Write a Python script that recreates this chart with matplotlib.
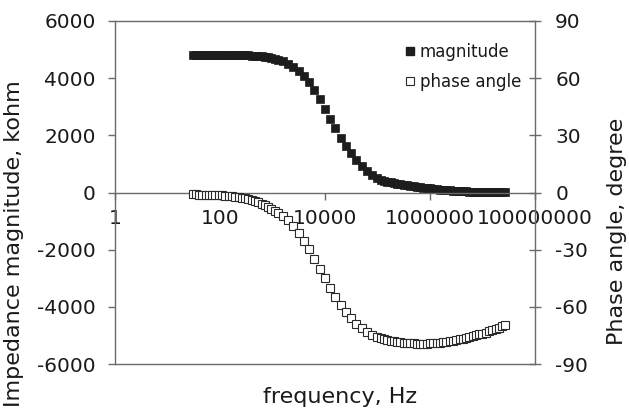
import matplotlib
matplotlib.use("Agg")
import matplotlib.pyplot as plt
from matplotlib.lines import Line2D

plt.rcParams['font.family'] = ['DejaVu Sans']
plt.rcParams['axes.unicode_minus'] = False

# sweep frequencies, Hz
freq = [30, 35, 40, 46, 53, 62, 71, 82, 95, 110, 127, 146, 169, 195, 226, 261,
        301, 348, 402, 464, 536, 619, 715, 825, 953, 1101, 1272,
        1600, 2000, 2500, 3200, 4000, 5000, 6300, 7900, 10000, 12600, 15800,
        20000, 25100, 31600, 39800, 50100, 63100, 79400, 100000,
        115500, 133400, 154000, 177800, 205400, 237100, 273800, 316200, 365200,
        421700, 487000, 562300, 649400, 749900, 866000, 1000000, 1155000,
        1334000, 1540000, 1778000, 2054000, 2371000, 2738000, 3162000, 3652000,
        4217000, 4870000, 5623000, 6494000, 7499000, 8660000, 10000000,
        11550000, 13340000, 15400000, 17780000, 20540000, 23710000, 27380000]

# impedance magnitude, kohm
magnitude = [4815, 4815, 4814, 4814, 4813, 4813, 4812, 4812, 4811, 4811, 4810,
             4809, 4808, 4807, 4806, 4804, 4801, 4797, 4792, 4784, 4774, 4760,
             4744, 4724, 4700, 4673, 4642,
             4590, 4505, 4400, 4255, 4090, 3870, 3580, 3265, 2935, 2570, 2240,
             1910, 1635, 1365, 1125, 925, 750, 605, 500,
             445, 410, 380, 355, 332, 310, 290, 270, 251, 233, 216, 200, 185,
             170, 157, 145, 130, 116, 103, 91, 80, 70, 61, 53, 46, 40, 35, 30,
             26, 23, 20, 17, 15, 13, 11, 10, 9, 8, 7]

# phase angle, degree
phase = [-1.0, -1.0, -1.1, -1.1, -1.2, -1.2, -1.3, -1.3, -1.4, -1.5, -1.6,
         -1.7, -1.9, -2.1, -2.4, -2.7, -3.1, -3.5, -4.0, -4.6, -5.2, -5.9,
         -6.7, -7.6, -8.5, -9.5, -10.6,
         -12.3, -14.6, -17.4, -21.2, -25.4, -29.8, -34.8, -39.9, -45.0, -50.2,
         -54.8, -59.2, -62.8, -66.1, -68.8, -71.2, -73.0, -74.6, -75.7,
         -76.4, -76.9, -77.3, -77.7, -78.0, -78.3, -78.6, -78.8, -79.0, -79.1,
         -79.2, -79.3, -79.3, -79.3, -79.3, -79.2, -79.1, -79.0, -78.8, -78.6,
         -78.4, -78.1, -77.8, -77.5, -77.1, -76.7, -76.3, -75.9, -75.5, -75.0,
         -74.5, -74.0, -73.5, -72.9, -72.3, -71.7, -71.0, -70.3, -69.6]

xticks = [1, 100, 10000, 1000000, 100000000]
xticklabels = ['1', '100', '10000', '1000000', '100000000']

gray = '#6a6a6a'
txt = '#1a1a1a'

fig = plt.figure(figsize=(6.29, 4.13), dpi=100)
ax = fig.add_axes([115/629, 49/413, 420/629, 343/413])
ax2 = ax.twinx()

ax.plot(freq, magnitude, 's', color='#1e1c1d', markersize=5.6,
        markeredgewidth=0.5, markeredgecolor='#1e1c1d', label='magnitude')
ax2.plot(freq, phase, 's', markerfacecolor='white', markeredgecolor='#2a2a2a',
         markersize=5.6, markeredgewidth=0.8, label='phase angle')

ax.set_xscale('log')
ax.set_xlim(1, 1e8)
ax.set_ylim(-6000, 6000)
ax2.set_ylim(-90, 90)
ax.set_yticks([-6000, -4000, -2000, 0, 2000, 4000, 6000])
ax2.set_yticks([-90, -60, -30, 0, 30, 60, 90])
ax.set_xticks(xticks)
ax.set_xticklabels(xticklabels)
ax.xaxis.set_minor_locator(matplotlib.ticker.NullLocator())

# x axis crosses at zero
ax.spines['bottom'].set_position(('data', 0))
for s in ['left', 'top', 'bottom']:
    ax.spines[s].set_color(gray)
    ax.spines[s].set_linewidth(1.0)
ax.spines['right'].set_visible(False)
for s in ['left', 'top', 'bottom']:
    ax2.spines[s].set_visible(False)
ax2.spines['right'].set_color(gray)
ax2.spines['right'].set_linewidth(1.0)
# bottom frame line
ax.plot([0, 1], [0, 0], transform=ax.transAxes, color=gray, lw=1.0, clip_on=False)

ax.tick_params(axis='x', direction='out', length=5, width=1, color=gray,
               labelsize=14.5, labelcolor=txt, pad=7)
ax.tick_params(axis='y', direction='out', length=5, width=1, color=gray,
               labelsize=14.5, labelcolor=txt, pad=9)
ax2.tick_params(axis='y', direction='inout', length=9, width=1, color=gray,
                labelsize=14.5, labelcolor=txt, pad=10)

ax.set_xlabel('frequency, Hz', fontsize=16, color=txt)
ax.xaxis.set_label_coords(0.536, -0.096)
ax.xaxis.label.set_va('center')
ax.set_ylabel('Impedance magnitude, kohm', fontsize=16, color=txt)
ax.yaxis.set_label_coords(-0.2405, 0.351)
ax.yaxis.label.set_va('center')
ax2.set_ylabel('Phase angle, degree', fontsize=16, color=txt, rotation=90)
ax2.yaxis.set_label_coords(1.195, 0.388)
ax2.yaxis.label.set_va('center')

handles = [Line2D([], [], ls='', marker='s', color='#1e1c1d', markersize=6),
           Line2D([], [], ls='', marker='s', markerfacecolor='white',
                  markeredgecolor='#2a2a2a', markersize=6, markeredgewidth=0.8)]
leg = ax2.legend(handles, ['magnitude', 'phase angle'], loc='upper left',
                 bbox_to_anchor=(0.69, 0.937), frameon=False, fontsize=12,
                 handlelength=0.6, handletextpad=0.3, labelspacing=0.75,
                 borderaxespad=0, borderpad=0)
for t in leg.get_texts():
    t.set_color(txt)

fig.savefig('out.png', dpi=100)
